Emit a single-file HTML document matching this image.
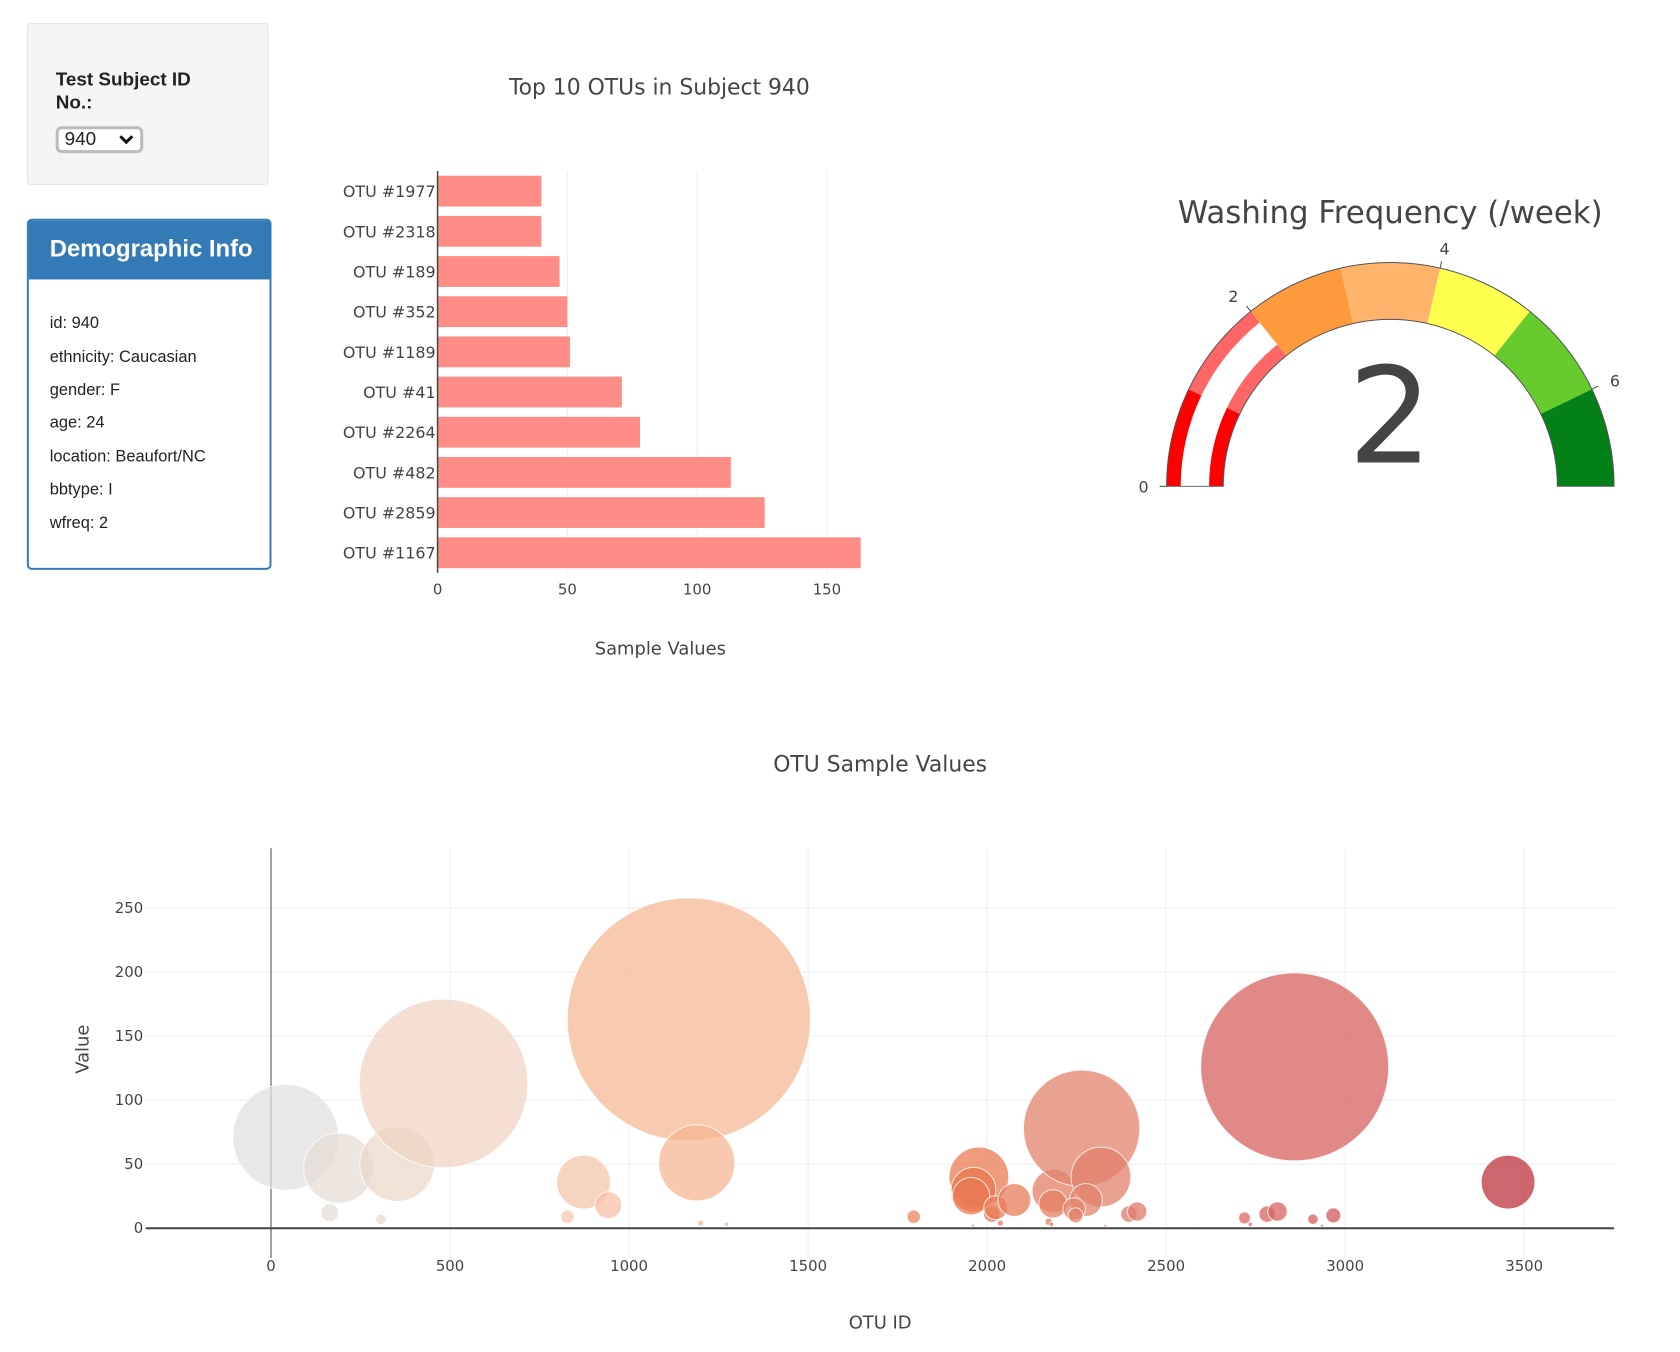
<!DOCTYPE html>
<html><head><meta charset="utf-8">
<style>
body{margin:0;width:1680px;height:1352px;background:#fff;position:relative;overflow:hidden;font-family:"Liberation Sans",Arial,sans-serif;}
#wrap{position:absolute;left:0;top:0;width:1680px;height:1352px;transform:scale(0.9945);transform-origin:0 0;}
.well{position:absolute;left:27px;top:23px;width:243px;height:163px;background:#f5f5f5;border:1px solid #e3e3e3;border-radius:4px;box-sizing:border-box;}
.well .lbl{position:absolute;left:28px;top:45px;font-size:19px;font-weight:bold;color:#222;line-height:23px;}
.sel{position:absolute;left:28px;top:103px;width:88px;height:27px;border:3px solid #bbb;border-radius:6px;background:#fff;box-sizing:border-box;font-size:19px;line-height:21px;padding-left:6px;color:#222;}
.sel svg{position:absolute;right:6px;top:5px;}
.panel{position:absolute;left:27px;top:220px;width:246px;height:353px;border:2px solid #337ab7;border-radius:5px;box-sizing:border-box;}
.panel .hd{background:#337ab7;color:#fff;height:59px;font-size:24px;font-weight:bold;line-height:57px;padding-left:21px;}
.panel .row{position:absolute;left:21px;font-size:16.5px;color:#222;}
#s{position:absolute;left:0;top:0;}
#s text{font-family:"DejaVu Sans","Liberation Sans",sans-serif;fill:#444;}
</style></head><body>
<div id="wrap">
<div class="well">
 <div class="lbl">Test Subject ID<br>No.:</div>
 <div class="sel">940<svg width="16" height="11" viewBox="0 0 16 11"><path d="M2 2 L8 8 L14 2" fill="none" stroke="#111" stroke-width="3"/></svg></div>
</div>
<div class="panel">
 <div class="hd">Demographic Info</div>
 <div class="row" style="top:94px">id: 940</div>
 <div class="row" style="top:128px">ethnicity: Caucasian</div>
 <div class="row" style="top:161px">gender: F</div>
 <div class="row" style="top:194px">age: 24</div>
 <div class="row" style="top:228px">location: Beaufort/NC</div>
 <div class="row" style="top:261px">bbtype: I</div>
 <div class="row" style="top:295px">wfreq: 2</div>
</div>
<svg id="s" width="1680" height="1352" xmlns="http://www.w3.org/2000/svg"></svg>
</div>
<script>
// ---- bar chart data ----
const barLabels=["OTU #1977","OTU #2318","OTU #189","OTU #352","OTU #1189","OTU #41","OTU #2264","OTU #482","OTU #2859","OTU #1167"];
const barValues=[40,40,47,50,51,71,78,113,126,163];
const barTicks=[0,50,100,150];
// ---- gauge data ----
const gaugeValue=2;
const gaugeMax=7;
const gaugeColors=["#ff0000","#ff6666","#fd9a3c","#ffb36b","#ffff4d","#66cc2e","#048019"];
const gaugeTicks=[0,2,4,6];
// ---- bubble data ----
const otuIds=[41,189,352,482,1167,1189,164,307,873,942,828,1200,1272,1795,1977,1962,1955,2013,2024,2037,2076,2186,2184,2264,2318,2276,2243,2247,2172,2180,2396,2419,2719,2735,2782,2811,2859,2910,2935,2967,3455,120,260,380,425,720,1500,1310,1960,2100,2330,2500,2580];
const otuValues=[71,47,50,113,163,51,12,7,36,18,9,4,3,9,40,30,25,11,16,4,22,29,19,78,40,22,15,10,5,3,11,13,8,3,11,13,126,7,2,10,36,1,1,1,1,1,1,1,2,1,2,1,1];
const xTicks=[0,500,1000,1500,2000,2500,3000,3500];
const yTicks=[0,50,100,150,200,250];

const S=document.getElementById('s');const NS="http://www.w3.org/2000/svg";
function mk(tag,at,txt){const e=document.createElementNS(NS,tag);for(const k in at)e.setAttribute(k,at[k]);if(txt!==undefined)e.textContent=txt;S.appendChild(e);return e;}

// ---- bar chart ----
const bx0=440,bxPer=130.5/50,byTop=172,byBot=576;
const bX=v=>bx0+v*bxPer;const band=(byBot-byTop)/barLabels.length;
let t=mk('text',{x:663,y:95,'text-anchor':'middle','font-size':22},'Top 10 OTUs in Subject 940');

barTicks.forEach(v=>{
 if(v>0){const g=mk('line',{x1:bX(v),x2:bX(v),y1:byTop,y2:byBot,stroke:'#eee','stroke-width':1});}
 const l=mk('text',{x:bX(v),y:598,'text-anchor':'middle','font-size':15},String(v));
 
});
barLabels.forEach((lab,i)=>{
 const cy=byTop+band*(i+0.5);
 const r=mk('rect',{x:bX(0),y:cy-15.5,width:bX(barValues[i])-bX(0),height:31,fill:'#ff8d87'});
 
 const l=mk('text',{x:bX(0)-2,y:cy+6,'text-anchor':'end','font-size':16},lab);
 
});
let ax=mk('line',{x1:bX(0),x2:bX(0),y1:byTop,y2:byBot,stroke:'#444','stroke-width':1.5});

t=mk('text',{x:664,y:658,'text-anchor':'middle','font-size':18},'Sample Values');


// ---- gauge ----
const gcx=1398,gcy=489,rO=225,rI=168;
const ang=v=>Math.PI*(1-v/gaugeMax);
const pt=(r,v)=>[gcx+r*Math.cos(ang(v)),gcy-r*Math.sin(ang(v))];
function arcPath(r1,r2,v1,v2){const a=pt(r2,v1),b=pt(r2,v2),c=pt(r1,v2),d=pt(r1,v1);
 return `M${a[0]},${a[1]} A${r2},${r2} 0 0 1 ${b[0]},${b[1]} L${c[0]},${c[1]} A${r1},${r1} 0 0 0 ${d[0]},${d[1]} Z`;}
t=mk('text',{x:1398,y:224,'text-anchor':'middle','font-size':31},'Washing Frequency (/week)');

gaugeColors.forEach((c,i)=>{
 const p=mk('path',{d:arcPath(rI,rO,i,i+1),fill:c});
 
});
let gb=mk('path',{d:arcPath(rI+(rO-rI)*0.25,rI+(rO-rI)*0.75,0,gaugeValue),fill:'#fff'});

let go=mk('path',{d:arcPath(rI,rO,0,gaugeMax),fill:'none',stroke:'#555','stroke-width':1});

gaugeTicks.forEach(v=>{
 const a=pt(rO,v),b=pt(rO+7,v),c=pt(rO+20,v);
 const tl=mk('line',{x1:a[0],y1:a[1],x2:b[0],y2:b[1],stroke:'#444','stroke-width':1});
 
 const anc=v===0?'end':(v<gaugeMax/2?'end':'start');
 const l=mk('text',{x:c[0]+(v===0?2:0),y:c[1]+6,'text-anchor':v===4?'middle':anc,'font-size':16},String(v));
 
});
t=mk('text',{x:1398,y:465,'text-anchor':'middle','font-size':134},String(gaugeValue));


// ---- bubble chart ----
const px0=146.5,px1=1623,py0=853,py1=1265;
const xMin=-350,xMax=3751,yMin=-23.3,yMax=296.6;
const X=v=>px0+(v-xMin)/(xMax-xMin)*(px1-px0);
const Y=v=>py1-(v-yMin)/(yMax-yMin)*(py1-py0);
t=mk('text',{x:885,y:776,'text-anchor':'middle','font-size':22},'OTU Sample Values');

yTicks.forEach(v=>{
 if(v>0){const g=mk('line',{x1:px0,x2:px1,y1:Y(v),y2:Y(v),stroke:'#eee','stroke-width':1});}
 const l=mk('text',{x:144,y:Y(v)+5,'text-anchor':'end','font-size':15},String(v));
 
});
xTicks.forEach(v=>{
 if(v>0){const g=mk('line',{x1:X(v),x2:X(v),y1:py0,y2:py1,stroke:'#eee','stroke-width':1});}
 const l=mk('text',{x:X(v),y:1278,'text-anchor':'middle','font-size':15},String(v));
 
});
let zx=mk('line',{x1:X(0),x2:X(0),y1:py0,y2:py1,stroke:'#444','stroke-width':1});

const stops=[[0,[225,225,225]],[0.14,[240,212,195]],[0.33,[246,186,150]],[0.56,[234,120,80]],[0.65,[226,130,108]],[0.82,[214,96,94]],[1,[188,48,59]]];
function col(id){let f=Math.max(0,Math.min(1,id/3500));for(let i=1;i<stops.length;i++){if(f<=stops[i][0]){const a=stops[i-1],b=stops[i];const u=(f-a[0])/(b[0]-a[0]);return 'rgb('+a[1].map((c,k)=>Math.round(c+(b[1][k]-c)*u)).join(',')+')';}}return 'rgb(188,48,59)';}
otuIds.forEach((id,i)=>{
 const c=mk('circle',{cx:X(id),cy:Y(otuValues[i]),r:otuValues[i]*0.75,fill:col(id),'fill-opacity':0.75,stroke:'#fff','stroke-width':1,'stroke-opacity':0.8});
 
});
let zy=mk('line',{x1:px0,x2:px1,y1:Y(0),y2:Y(0),stroke:'#444','stroke-width':2});

t=mk('text',{x:885,y:1336,'text-anchor':'middle','font-size':18},'OTU ID');

t=mk('text',{x:89,y:1055,'text-anchor':'middle','font-size':18,transform:'rotate(-90 89 1055)'},'Value');

</script>
</body></html>
